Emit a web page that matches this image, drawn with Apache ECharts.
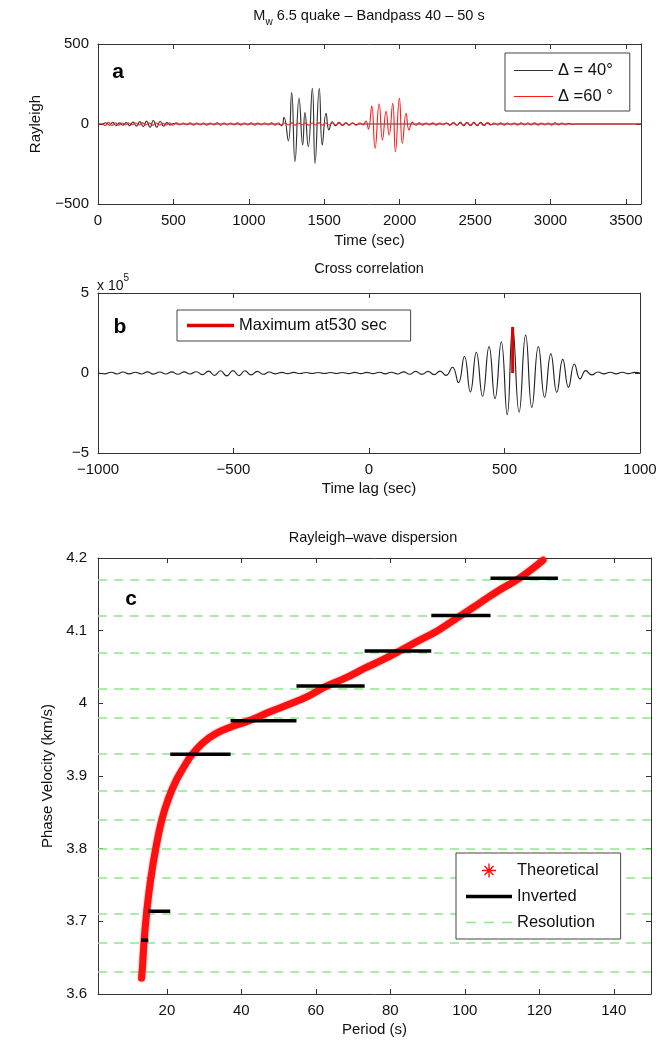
<!DOCTYPE html>
<html><head><meta charset="utf-8">
<script src="https://cdn.jsdelivr.net/npm/echarts@6/dist/echarts.min.js"></script>
<style>html,body{margin:0;padding:0;background:#fff}#c{width:670px;height:1041px}</style>
</head><body><div id="c"></div>
<script>
// ---------- tick labels ----------
const aTimeTicks = [0, 500, 1000, 1500, 2000, 2500, 3000, 3500];
const aAmpTicks = [-500, 0, 500];
const bLagTicks = [-1000, -500, 0, 500, 1000];
const bCorrTicks = [-5, 0, 5];
const cPeriodTicks = [20, 40, 60, 80, 100, 120, 140];
const cVelTicks = [3.6, 3.7, 3.8, 3.9, 4, 4.1, 4.2];

// ---------- panel a: Rayleigh waveforms (time s, amplitude) ----------
const aNameBlack = 'Δ = 40°';
const aNameRed = 'Δ =60 °';
const aBlack = [[0,0],[30,0],[52,8],[75,-8],[97,10],[120,-9],[142,7],[165,-7],[187,9],[210,-10],[232,12],[255,-13],[277,15],[300,-16],[322,18],[345,-20],[367,22],[390,-20],[412,17],[435,-13],[457,9],[480,-6],[502,3],[525,0],
[1195,0],[1218,-10],[1233,42],[1262,-105],[1284,196],[1306,-235],[1333,160],[1357,-131],[1372,71],[1394,-141],[1421,223],[1439,-246],[1467,223],[1487,-131],[1512,67],[1531,-37],[1553,14],[1575,-10],[1597,10],[1620,-9],[1642,8],[1664,-7],[1687,6],[1709,-4],[1731,0],
[2290,0],[2312,4],[2335,-5],[2357,7],[2380,-8],[2402,10],[2425,-10],[2447,11],[2470,-11],[2492,11],[2515,-11],[2537,10],[2560,-9],[2582,7],[2605,-4],[2627,0],[3600,0]];
const aRed = [[0,0],[25,0],[47,-9],[70,10],[92,-9],[115,8],[137,-7],[160,6],[182,-6],[205,6],[227,-5],[250,6],[272,-6],[295,7],[317,-6],[340,6],[362,-7],[385,6],[407,-6],[430,5],[452,-6],[475,6],[497,-7],[520,7],[542,-6],[565,6],[587,-6],[610,7],[632,-7],[655,6],[677,-6],[700,6],[722,-7],[745,6],[767,-6],[790,7],[812,-7],[835,6],[857,-6],[880,6],[902,-6],[925,7],[947,-7],[970,6],[992,-6],[1015,7],[1037,-7],[1060,6],[1082,-6],[1105,6],[1127,-6],[1150,7],[1172,-7],[1195,6],[1217,-6],[1240,6],[1262,-6],[1285,7],[1307,-7],[1330,6],[1352,-6],[1375,6],[1397,-7],[1420,6],[1442,-6],[1465,7],[1487,-7],[1510,6],[1532,-6],[1555,6],[1577,-6],[1600,7],[1622,-7],[1645,6],[1667,-6],[1690,6],[1712,-7],[1735,6],[1757,-6],
[1777,19],[1793,-33],[1815,112],[1837,-152],[1864,125],[1886,-100],[1910,79],[1930,-69],[1954,129],[1972,-173],[1998,160],[2018,-121],[2043,67],[2062,-37],[2085,12],
[2107,-8],[2130,7],[2152,-7],[2175,6],[2197,-6],[2220,7],[2242,-7],[2265,6],[2287,-6],[2310,6],[2332,-7],[2355,7],[2377,-6],[2400,6],[2422,-6],[2445,7],[2467,-7],[2490,6],[2512,-6],[2535,6],[2557,-7],[2580,7],[2602,-6],[2625,6],[2647,-6],[2670,7],[2692,-7],[2715,6],[2737,-6],[2760,6],[2782,-7],[2805,7],[2827,-6],[2850,6],[2872,-6],[2895,7],[2917,-7],[2940,6],[2962,-6],[2985,6],[3007,-7],[3030,7],[3052,-6],[3075,6],[3097,-5],[3120,4],[3142,-2],[3160,0],[3600,0]];

// ---------- panel b: cross correlation (lag s, value ×10^5) ----------
const bCorr = [[-1000,0],[-975,-0.05],[-952,0.05],[-930,-0.06],[-908,0.06],[-885,-0.05],[-862,0.05],[-840,-0.06],[-818,0.07],[-795,-0.07],[-772,0.06],[-750,-0.06],[-728,0.07],[-705,-0.08],[-682,0.07],[-660,-0.06],[-638,0.08],[-615,-0.1],[-592,0.12],[-570,-0.15],[-548,0.14],[-525,-0.18],[-502,0.15],[-480,-0.16],[-458,0.14],[-435,-0.12],[-412,0.1],[-390,-0.08],[-368,0.06],[-345,-0.05],[-322,0.04],[-300,-0.04],[-278,0.04],[-255,-0.03],[-232,0.03],[-210,-0.03],[-188,0.03],[-165,-0.03],[-142,0.03],[-120,-0.03],[-98,0.03],[-75,-0.04],[-52,0.04],[-30,-0.04],[-8,0.04],[15,-0.04],[38,0.05],[60,-0.05],[82,0.05],[105,-0.06],[128,0.07],[150,-0.08],[172,0.1],[195,-0.09],[218,0.1],[240,-0.1],
[262,0.12],[284,-0.15],[308,0.36],[330,-0.6],[352,1.03],[374,-1.18],[396,1.3],[419,-1.45],[443,1.65],[465,-1.6],[488,1.95],[510,-2.6],[530,2.87],[554,-2.45],[578,2.37],[601,-2.15],[625,1.65],[648,-1.52],[671,1.2],[693,-1.2],[715,0.85],[736,-0.9],[758,0.56],[779,-0.37],[800,0.15],[822,-0.12],
[845,0.06],[867,-0.05],[890,0.05],[912,-0.05],[935,0.05],[957,-0.04],[980,0.04],[1000,0]];
const bMaxName = 'Maximum at530 sec';
const bMaxLag = 530;
const bMaxCorr = 2.87;

// ---------- panel c: dispersion ----------
const cThPeriod = [13.2, 13.4, 13.9, 14.6, 15.6, 17.0, 18.7, 20.5, 22.5, 24.5, 26.5, 29.5, 33, 37.5, 42, 47.5, 53.5, 58, 63, 68, 73, 78, 82.5, 87.5, 92.7, 99, 104, 109, 114.6, 121];
const cThVel    = [3.622, 3.634, 3.674, 3.714, 3.756, 3.800, 3.841, 3.870, 3.894, 3.912, 3.928, 3.945, 3.958, 3.968, 3.976, 3.988, 4.000, 4.010, 4.024, 4.035, 4.048, 4.060, 4.072, 4.086, 4.100, 4.121, 4.138, 4.155, 4.172, 4.197];
const cInvEdges = [13.1, 15.0, 20.9, 37.1, 54.8, 73.1, 91.0, 106.9, 125.0];
const cInvVel   = [3.674, 3.714, 3.930, 3.976, 4.024, 4.072, 4.121, 4.172];
const cResVel   = [3.634, 3.674, 3.714, 3.756, 3.800, 3.841, 3.884, 3.930, 3.976, 4.024, 4.072, 4.121, 4.172];

// ---------- styling ----------
const FONT = '"Liberation Sans", Arial, Helvetica, sans-serif';
const AX = '#333';
const fmt = v => String(v).replace('-', '\u2212');
const lbl = { fontFamily: FONT, fontSize: 15, color: '#111' };
const nameStyle = { fontFamily: FONT, fontSize: 15, color: '#111' };
const ASTERISK = 'path://M9,0h2v20h-2z M0,9h20v2h-20z M2.93,4.34l1.41-1.41l12.73,12.73l-1.41,1.41z M15.66,2.93l1.41,1.41l-12.73,12.73l-1.41-1.41z';
const lineIcon = (w, t) => 'path://M0,0h' + w + 'v' + t + 'h-' + w + 'z';
const DASH_ICON = 'path://M0,0h10v1.5h-10z M18,0h10v1.5h-10z M36,0h10v1.5h-10z';

function axis(grid, pos, min, max, ticks, showLabel, extra) {
  return Object.assign({
    type: 'value', gridIndex: grid, position: pos, min: min, max: max,
    splitLine: { show: false },
    axisLine: { show: true, onZero: false, lineStyle: { color: AX, width: 1 } },
    axisTick: { show: true, inside: true, length: 5, customValues: ticks, lineStyle: { color: AX } },
    axisLabel: Object.assign({ show: showLabel, customValues: ticks, formatter: fmt, margin: 9 }, lbl)
  }, extra || {});
}

const xAxes = [
  axis(0, 'bottom', 0, 3600, aTimeTicks, true, { name: 'Time (sec)', nameLocation: 'middle', nameGap: 29, nameTextStyle: nameStyle }),
  axis(0, 'top', 0, 3600, aTimeTicks, false),
  axis(1, 'bottom', -1000, 1000, bLagTicks, true, { name: 'Time lag (sec)', nameLocation: 'middle', nameGap: 28, nameTextStyle: nameStyle }),
  axis(1, 'top', -1000, 1000, bLagTicks, false),
  axis(2, 'bottom', 1.5, 150, cPeriodTicks, true, { name: 'Period (s)', nameLocation: 'middle', nameGap: 28, nameTextStyle: nameStyle }),
  axis(2, 'top', 1.5, 150, cPeriodTicks, false)
];
const yAxes = [
  axis(0, 'left', -500, 500, aAmpTicks, true, { name: 'Rayleigh', nameLocation: 'middle', nameGap: 55, nameTextStyle: nameStyle }),
  axis(0, 'right', -500, 500, aAmpTicks, false),
  axis(1, 'left', -5, 5, bCorrTicks, true),
  axis(1, 'right', -5, 5, bCorrTicks, false),
  axis(2, 'left', 3.6, 4.2, cVelTicks, true, { name: 'Phase Velocity (km/s)', nameLocation: 'middle', nameGap: 41, nameTextStyle: nameStyle }),
  axis(2, 'right', 3.6, 4.2, cVelTicks, false)
];
yAxes[4].axisLabel.margin = 11;

const series = [
  { type: 'line', name: aNameBlack, xAxisIndex: 0, yAxisIndex: 0, data: aBlack, smooth: 0.5, symbol: 'none',
    lineStyle: { color: '#333', width: 1.15 }, itemStyle: { color: '#333' }, z: 2 },
  { type: 'line', name: aNameRed, xAxisIndex: 0, yAxisIndex: 0, data: aRed, smooth: 0.5, symbol: 'none',
    lineStyle: { color: '#ff1a1a', width: 1.1 }, itemStyle: { color: '#ff1a1a' }, z: 3 },
  { type: 'line', name: 'corr', xAxisIndex: 2, yAxisIndex: 2, data: bCorr, smooth: 0.5, symbol: 'none',
    lineStyle: { color: '#222', width: 1.15 }, z: 2 },
  { type: 'line', name: bMaxName, xAxisIndex: 2, yAxisIndex: 2, data: [[bMaxLag, 0], [bMaxLag, bMaxCorr]], symbol: 'none',
    lineStyle: { color: '#e00000', width: 3 }, itemStyle: { color: '#e00000' }, z: 3 },
  { type: 'line', name: 'Resolution', xAxisIndex: 4, yAxisIndex: 4, data: [], symbol: 'none',
    lineStyle: { color: '#8fe88f', type: [9, 7], width: 1.5 }, itemStyle: { color: '#8fe88f' }, z: 1, zlevel: 0,
    markLine: { silent: true, symbol: ['none', 'none'], label: { show: false }, animation: false, z: 1,
      lineStyle: { color: '#8fe88f', type: [9, 7], width: 1.5 },
      emphasis: { disabled: true },
      data: cResVel.map(v => ({ yAxis: v })) } },
  { type: 'line', name: 'Theoretical', xAxisIndex: 4, yAxisIndex: 4, data: cThPeriod.map((p, i) => [p, cThVel[i]]),
    smooth: 0.4, symbol: 'none', lineStyle: { color: '#ff1010', width: 7, cap: 'round', shadowBlur: 2, shadowColor: 'rgba(255,0,0,0.6)' },
    itemStyle: { color: '#ff1010' }, z: 8 }
];
cInvVel.forEach((v, i) => {
  series.push({ type: 'line', name: 'Inverted', xAxisIndex: 4, yAxisIndex: 4,
    data: [[cInvEdges[i], v], [cInvEdges[i + 1], v]], symbol: 'none',
    lineStyle: { color: '#000', width: 3.5 }, itemStyle: { color: '#000' }, z: 10 });
});

const legendBase = {
  orient: 'vertical', selectedMode: false, backgroundColor: '#fff', borderColor: '#444', borderWidth: 1, borderRadius: 0,
  itemHeight: 14, textStyle: { fontFamily: FONT, fontSize: 16.5, color: '#111' }
};

const option = {
  animation: false,
  backgroundColor: '#fff',
  grid: [
    { left: 98, top: 44, width: 543, height: 160 },
    { left: 98, top: 293, width: 542, height: 160 },
    { left: 98, top: 558, width: 553, height: 436 }
  ],
  xAxis: xAxes,
  yAxis: yAxes,
  legend: [
    Object.assign({}, legendBase, { left: 505, top: 53, itemWidth: 39, itemGap: 9, padding: [9, 17, 6, 9],
      data: [{ name: aNameBlack, icon: lineIcon(39, 1.2) }, { name: aNameRed, icon: lineIcon(39, 1.2) }] }),
    Object.assign({}, legendBase, { left: 177, top: 310, itemWidth: 47, padding: [7, 24, 7, 10],
      data: [{ name: bMaxName, icon: lineIcon(47, 3.5) }] }),
    Object.assign({}, legendBase, { left: 456, top: 853, itemWidth: 46, itemGap: 9, padding: [9, 22, 8, 10],
      data: [{ name: 'Theoretical', icon: ASTERISK, itemStyle: { color: '#ff1010' } },
             { name: 'Inverted', icon: lineIcon(46, 3.5) },
             { name: 'Resolution', icon: DASH_ICON }] })
  ],
  graphic: [
    { type: 'text', x: 369, y: 16, style: { text: '{m|M}{w|w}{m| 6.5 quake \u2013 Bandpass 40 \u2013 50 s}',
      align: 'center', verticalAlign: 'middle', fill: '#111',
      rich: { m: { fontFamily: FONT, fontSize: 14.5, lineHeight: 22, verticalAlign: 'middle', fill: '#111' },
              w: { fontFamily: FONT, fontSize: 10, lineHeight: 22, verticalAlign: 'bottom', fill: '#111' } } } },
    { type: 'text', x: 369, y: 269, style: { text: 'Cross correlation', font: '14.5px ' + FONT, align: 'center', verticalAlign: 'middle', fill: '#111' } },
    { type: 'text', x: 373, y: 538, style: { text: 'Rayleigh\u2013wave dispersion', font: '14.5px ' + FONT, align: 'center', verticalAlign: 'middle', fill: '#111' } },
    { type: 'text', x: 97, y: 283, style: { text: '{b|x 10}{s|5}', align: 'left', verticalAlign: 'middle', fill: '#111',
      rich: { b: { fontFamily: FONT, fontSize: 14, lineHeight: 20, verticalAlign: 'bottom', fill: '#111' },
              s: { fontFamily: FONT, fontSize: 10, lineHeight: 20, verticalAlign: 'top', fill: '#111' } } } },
    { type: 'text', x: 118, y: 72, style: { text: 'a', font: 'bold 21px ' + FONT, align: 'center', verticalAlign: 'middle', fill: '#000' } },
    { type: 'text', x: 120, y: 327, style: { text: 'b', font: 'bold 21px ' + FONT, align: 'center', verticalAlign: 'middle', fill: '#000' } },
    { type: 'text', x: 131, y: 599, style: { text: 'c', font: 'bold 21px ' + FONT, align: 'center', verticalAlign: 'middle', fill: '#000' } }
  ],
  series: series
};

const chart = echarts.init(document.getElementById('c'));
chart.setOption(option);
</script></body></html>
